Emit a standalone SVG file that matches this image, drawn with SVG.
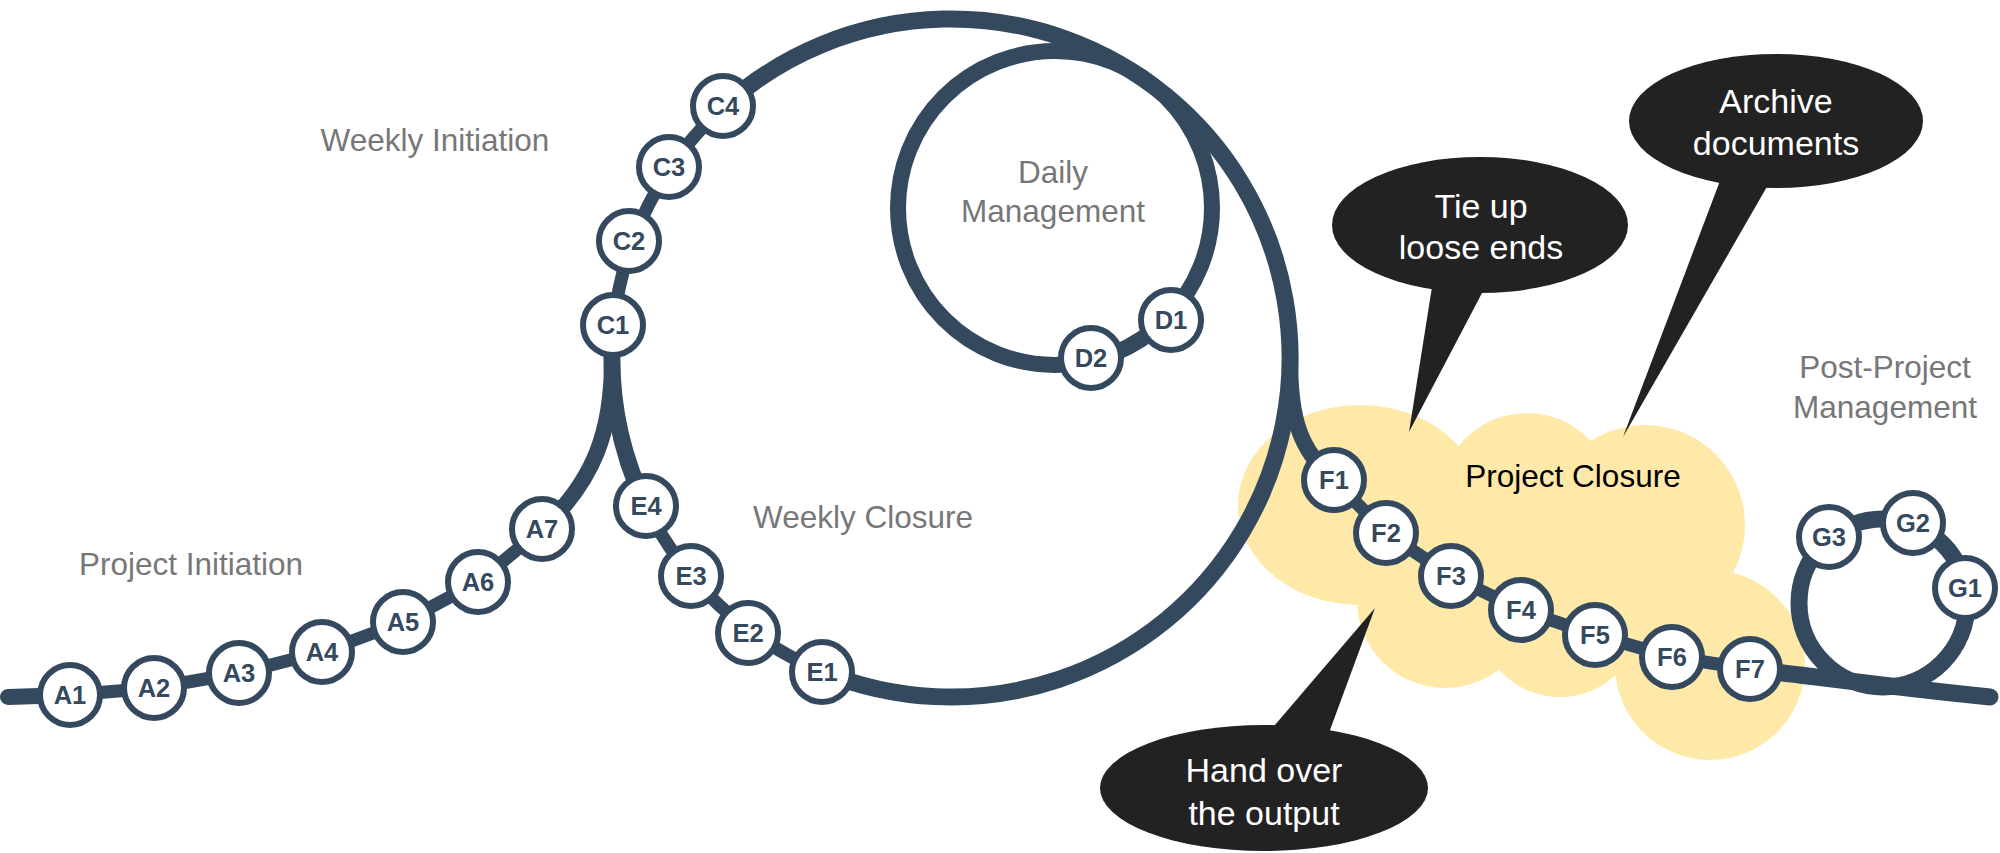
<svg xmlns="http://www.w3.org/2000/svg" width="2000" height="853" viewBox="0 0 2000 853">
<style>
.ln{fill:none;stroke:#34495e;stroke-linecap:round;stroke-linejoin:round}
.thick{stroke-width:17}
.thin{stroke-width:13}
.nd circle{fill:#fff;stroke:#34495e;stroke-width:6}
.nd text{font-family:"Liberation Sans",Arial,sans-serif;font-weight:bold;font-size:25.5px;fill:#34495e;text-anchor:middle}
.lbl{font-family:"Liberation Sans",Arial,sans-serif;font-size:31.5px;fill:#777;text-anchor:middle}
.cloud{fill:#ffe9a8}
.bub{fill:#222}
.btx{font-family:"Liberation Sans",Arial,sans-serif;font-size:34px;fill:#fff;text-anchor:middle}
</style>
<g id="cloud-project-closure">
<g class="cloud">
<ellipse cx="1360" cy="505" rx="122" ry="100"/>
<circle cx="1527" cy="500" r="87"/>
<circle cx="1645" cy="525" r="100"/>
<circle cx="1445" cy="600" r="88"/>
<circle cx="1560" cy="615" r="82"/>
<circle cx="1710" cy="665" r="95"/>
<polygon points="1300,480 1463,450 1590,450 1700,520 1730,590 1640,680 1510,660 1380,610"/>
</g>
<text class="lbl" x="1573" y="487" style="fill:#000">Project Closure</text>
</g>
<g id="connectors">
<path class="ln thick" d="M724.2,106.1 A339,339 0 1 1 822.4,671.6"/>
<path class="ln thin" d="M822.4,671.6 A339,339 0 0 1 646,506"/>
<path class="ln thick" d="M646,506 A339,339 0 0 1 613.6,324.9"/>
<path class="ln thin" d="M613.6,324.9 A339,339 0 0 1 724.2,106.1"/>
<circle class="ln" cx="1055" cy="208" r="157" stroke-width="16"/>
<path class="ln" stroke-width="16" d="M612,360 C612,430 595,480 542,529"/>
<path class="ln thin" d="M542,529 L478,582 L403,622 L322,652 L239,673 L154,688 L70,695"/>
<path class="ln" stroke-width="16" d="M70,695 L8,697"/>
<path class="ln" stroke-width="16" d="M1290,358 C1290,420 1300,450 1334,480"/>
<path class="ln thin" d="M1334,480 L1386,533 L1451,576 L1521,610 L1595,635 L1672,657 L1750,669"/>
<path class="ln thick" d="M1750,669 C1810,676 1900,688 1990,697"/>
<circle class="ln thick" cx="1883" cy="603" r="84"/>
</g>
<g id="nodes-A" class="nd">
<g id="A1"><circle cx="70" cy="695" r="30"/><text x="70" y="704">A1</text></g>
<g id="A2"><circle cx="154" cy="688" r="30"/><text x="154" y="697">A2</text></g>
<g id="A3"><circle cx="239" cy="673" r="30"/><text x="239" y="682">A3</text></g>
<g id="A4"><circle cx="322" cy="652" r="30"/><text x="322" y="661">A4</text></g>
<g id="A5"><circle cx="403" cy="622" r="30"/><text x="403" y="631">A5</text></g>
<g id="A6"><circle cx="478" cy="582" r="30"/><text x="478" y="591">A6</text></g>
<g id="A7"><circle cx="542" cy="529" r="30"/><text x="542" y="538">A7</text></g>
</g>
<g id="nodes-C" class="nd">
<g id="C1"><circle cx="613" cy="325" r="30"/><text x="613" y="334">C1</text></g>
<g id="C2"><circle cx="629" cy="241" r="30"/><text x="629" y="250">C2</text></g>
<g id="C3"><circle cx="669" cy="167" r="30"/><text x="669" y="176">C3</text></g>
<g id="C4"><circle cx="723" cy="106" r="30"/><text x="723" y="115">C4</text></g>
</g>
<g id="nodes-D" class="nd">
<g id="D1"><circle cx="1171" cy="320" r="30"/><text x="1171" y="329">D1</text></g>
<g id="D2"><circle cx="1091" cy="358" r="30"/><text x="1091" y="367">D2</text></g>
</g>
<g id="nodes-E" class="nd">
<g id="E1"><circle cx="822" cy="672" r="30"/><text x="822" y="681">E1</text></g>
<g id="E2"><circle cx="748" cy="633" r="30"/><text x="748" y="642">E2</text></g>
<g id="E3"><circle cx="691" cy="576" r="30"/><text x="691" y="585">E3</text></g>
<g id="E4"><circle cx="646" cy="506" r="30"/><text x="646" y="515">E4</text></g>
</g>
<g id="nodes-F" class="nd">
<g id="F1"><circle cx="1334" cy="480" r="30"/><text x="1334" y="489">F1</text></g>
<g id="F2"><circle cx="1386" cy="533" r="30"/><text x="1386" y="542">F2</text></g>
<g id="F3"><circle cx="1451" cy="576" r="30"/><text x="1451" y="585">F3</text></g>
<g id="F4"><circle cx="1521" cy="610" r="30"/><text x="1521" y="619">F4</text></g>
<g id="F5"><circle cx="1595" cy="635" r="30"/><text x="1595" y="644">F5</text></g>
<g id="F6"><circle cx="1672" cy="657" r="30"/><text x="1672" y="666">F6</text></g>
<g id="F7"><circle cx="1750" cy="669" r="30"/><text x="1750" y="678">F7</text></g>
</g>
<g id="nodes-G" class="nd">
<g id="G1"><circle cx="1965" cy="588" r="30"/><text x="1965" y="597">G1</text></g>
<g id="G2"><circle cx="1913" cy="523" r="30"/><text x="1913" y="532">G2</text></g>
<g id="G3"><circle cx="1829" cy="537" r="30"/><text x="1829" y="546">G3</text></g>
</g>
<g id="labels">
<text class="lbl" x="191" y="575">Project Initiation</text>
<text class="lbl" x="435" y="151">Weekly Initiation</text>
<text class="lbl" x="863" y="528">Weekly Closure</text>
<text class="lbl" x="1053" y="183">Daily</text>
<text class="lbl" x="1053" y="222">Management</text>
<text class="lbl" x="1885" y="378">Post-Project</text>
<text class="lbl" x="1885" y="418">Management</text>
</g>
<g id="bubble-tie-up">
<ellipse class="bub" cx="1480" cy="225" rx="148" ry="68"/>
<polygon class="bub" points="1435,268 1492,274 1409,432"/>
<text class="btx" x="1481" y="218">Tie up</text>
<text class="btx" x="1481" y="259">loose ends</text>
</g>
<g id="bubble-archive">
<ellipse class="bub" cx="1776" cy="121" rx="147" ry="67"/>
<polygon class="bub" points="1726,165 1776,171 1623,437"/>
<text class="btx" x="1776" y="113">Archive</text>
<text class="btx" x="1776" y="155">documents</text>
</g>
<g id="bubble-hand-over">
<ellipse class="bub" cx="1264" cy="788" rx="164" ry="63"/>
<polygon class="bub" points="1262,740 1323,749 1375,608"/>
<text class="btx" x="1264" y="782">Hand over</text>
<text class="btx" x="1264" y="825">the output</text>
</g>
</svg>
